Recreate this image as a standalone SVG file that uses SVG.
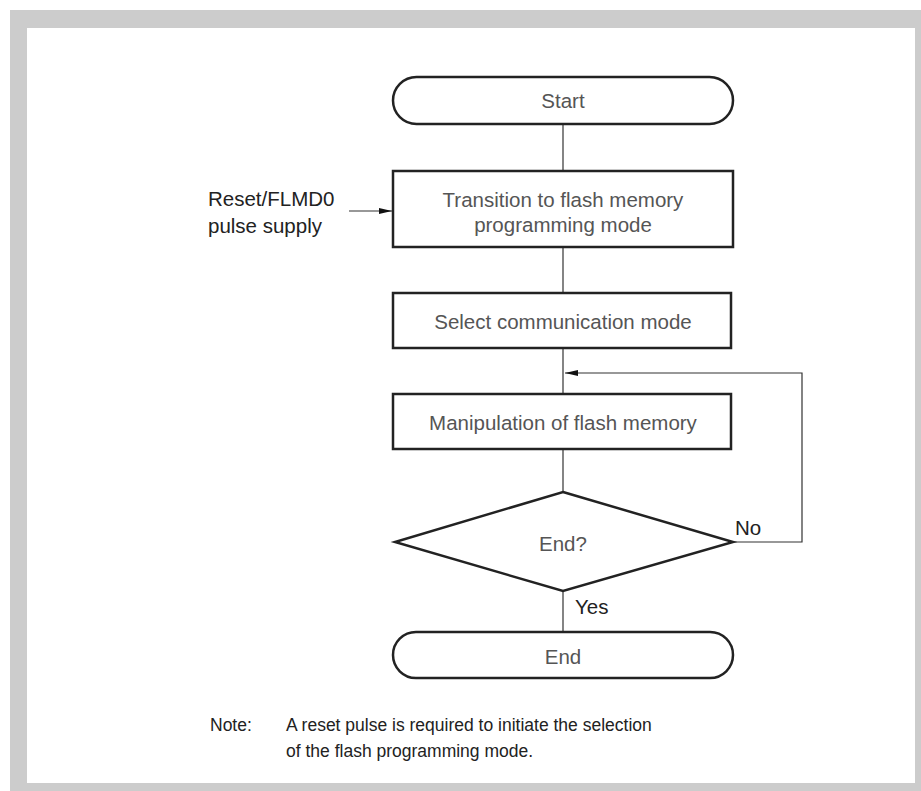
<svg xmlns="http://www.w3.org/2000/svg" width="921" height="791" viewBox="0 0 921 791">
<style>
.node{fill:#fff;stroke:#222;stroke-width:2.5}
.conn{fill:none;stroke:#333;stroke-width:1.2}
.nt{font-family:"Liberation Sans",Arial,sans-serif;font-size:20.5px;fill:#555;text-anchor:middle}
.lbl{font-family:"Liberation Sans",Arial,sans-serif;font-size:20.5px;fill:#222}
.note{font-family:"Liberation Sans",Arial,sans-serif;font-size:17.5px;fill:#222}
</style>
<defs>
<marker id="arr" markerUnits="userSpaceOnUse" markerWidth="14" markerHeight="10" refX="13" refY="5" orient="auto">
<path d="M0,2 L13,5 L0,8 Z" fill="#111"/>
</marker>
</defs>
<rect x="10" y="10" width="911" height="781" fill="#cccccc"/>
<rect x="27" y="28" width="888" height="755" fill="#fff"/>
<g id="connectors">
<line class="conn" x1="563" y1="124" x2="563" y2="171"/>
<line class="conn" x1="563" y1="247" x2="563" y2="293"/>
<line class="conn" x1="563" y1="348" x2="563" y2="394"/>
<line class="conn" x1="563" y1="449" x2="563" y2="492"/>
<line class="conn" x1="563" y1="591" x2="563" y2="632"/>
<polyline class="conn" points="733,542 802,542 802,373 565,373" marker-end="url(#arr)"/>
<line class="conn" x1="349" y1="211" x2="392" y2="211" stroke="#666" marker-end="url(#arr)"/>
</g>
<g id="start">
<rect class="node" x="393" y="77" width="340" height="47" rx="23.5"/>
<text class="nt" x="563" y="108">Start</text>
</g>
<g id="transition">
<rect class="node" x="393" y="171" width="340" height="76"/>
<text class="nt" x="563" y="207">Transition to flash memory</text>
<text class="nt" x="563" y="232">programming mode</text>
</g>
<g id="reset">
<text class="lbl" x="208" y="206">Reset/FLMD0</text>
<text class="lbl" x="208" y="233">pulse supply</text>
</g>
<g id="select">
<rect class="node" x="393" y="293" width="338" height="55"/>
<text class="nt" x="563" y="329">Select communication mode</text>
</g>
<g id="manipulation">
<rect class="node" x="393" y="394" width="338" height="55"/>
<text class="nt" x="563" y="430">Manipulation of flash memory</text>
</g>
<g id="decision">
<polygon class="node" points="563,492 733,542 563,591 395,542"/>
<text class="nt" x="563" y="551">End?</text>
<text class="lbl" x="735" y="535">No</text>
<text class="lbl" x="575" y="614">Yes</text>
</g>
<g id="end">
<rect class="node" x="393" y="632" width="340" height="46" rx="23"/>
<text class="nt" x="563" y="664">End</text>
</g>
<g id="note">
<text class="note" x="210" y="731">Note:</text>
<text class="note" x="286" y="731">A reset pulse is required to initiate the selection</text>
<text class="note" x="286" y="757">of the flash programming mode.</text>
</g>
</svg>
